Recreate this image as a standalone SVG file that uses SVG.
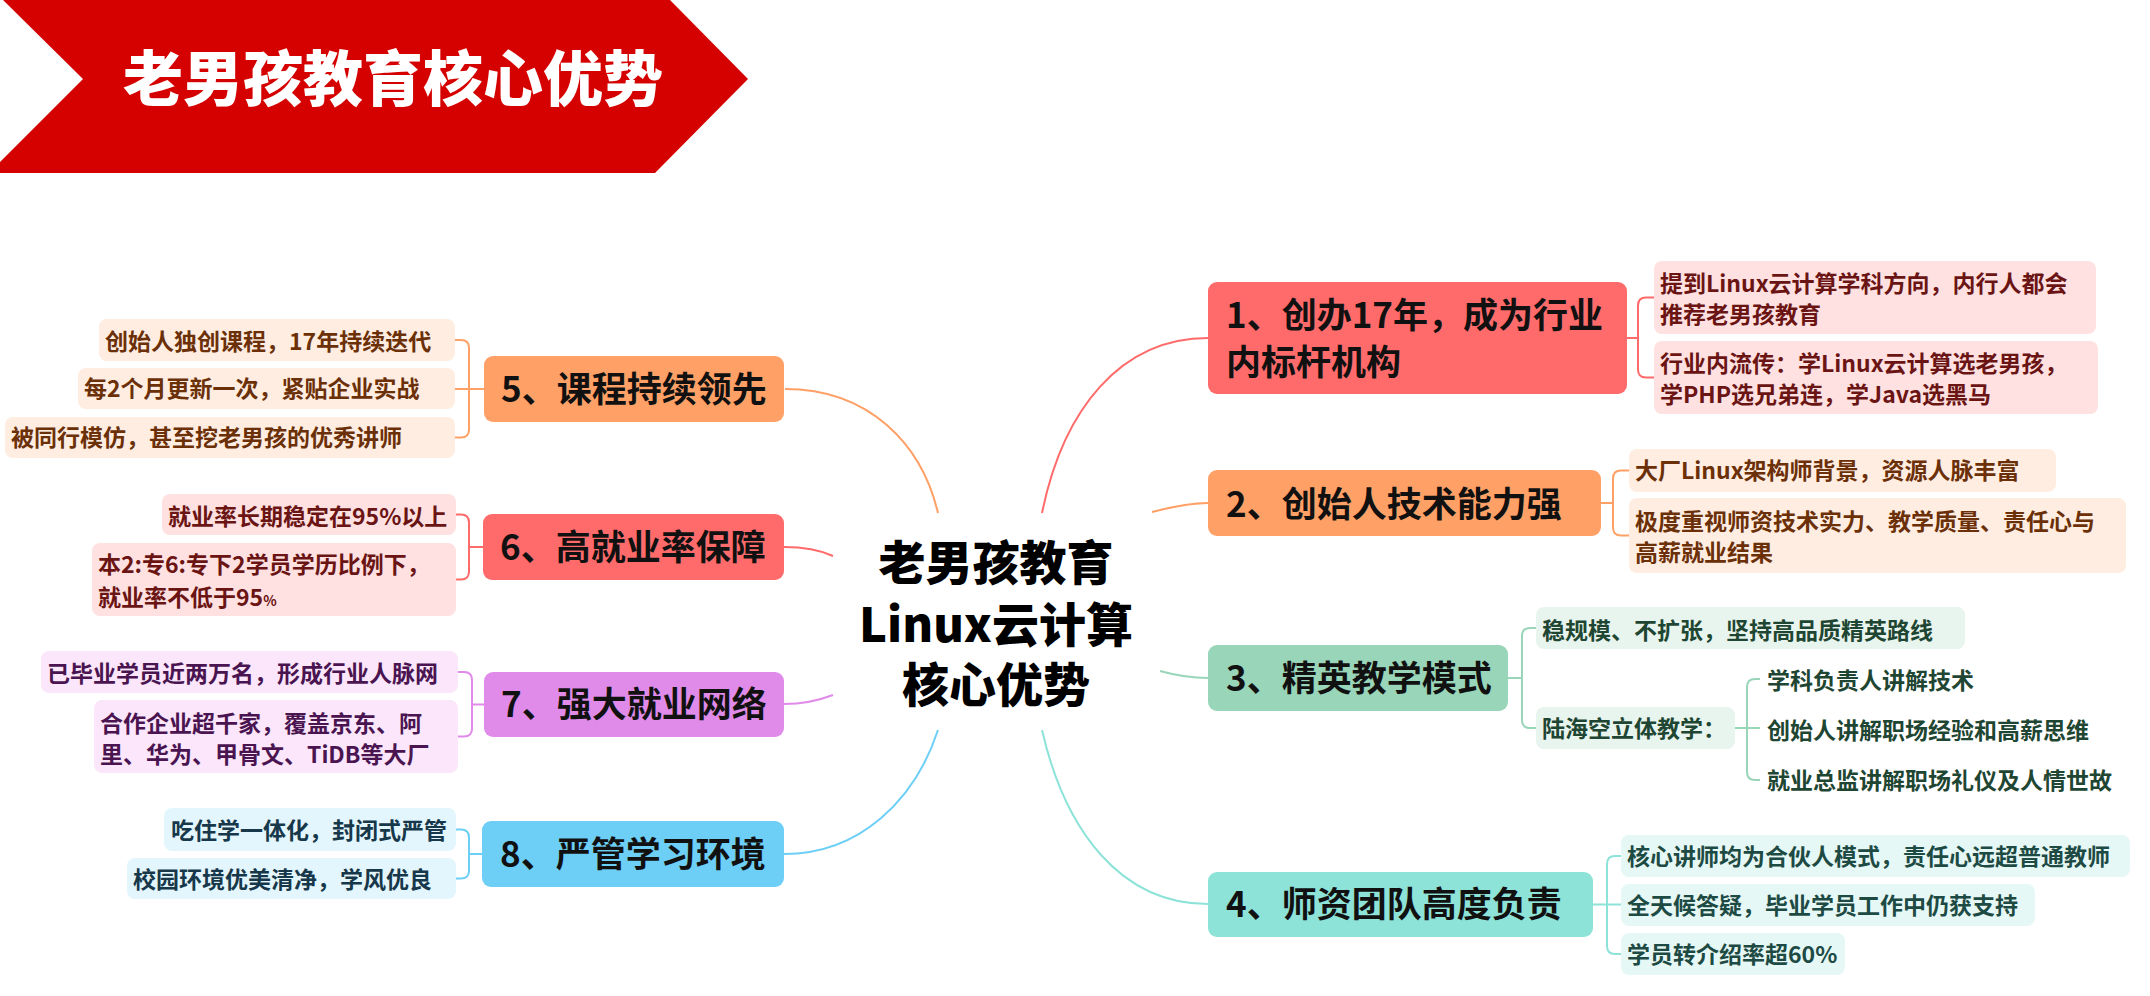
<svg xmlns="http://www.w3.org/2000/svg" width="2150" height="996" viewBox="0 0 2150 996">
<style>
text{font-family:"Noto Sans CJK SC","Noto Sans",sans-serif;font-weight:bold}
.title{font-size:60px;fill:#fff;font-weight:900}
.center{font-size:47px;fill:#000;text-anchor:middle;font-weight:900}
.node{font-size:35px;fill:#111}
.child{font-size:23px}
.c{fill:none;stroke-width:2}
.red{stroke:#FF6B6B}.org{stroke:#FFA066}.mint{stroke:#98D5B9}.turq{stroke:#8DE3D8}.orch{stroke:#E08BEA}.blue{stroke:#6DCFF6}
.tred{fill:#6B1414}.torg{fill:#6B3008}.tmint{fill:#1E4632}.tturq{fill:#1E4A44}.torch{fill:#4A1450}.tblue{fill:#17384A}
.bred{fill:#FFE1E1}.borg{fill:#FFEDE1}.bmint{fill:#E8F5EE}.bturq{fill:#E5F8F5}.borch{fill:#FBE6FC}.bblue{fill:#E3F6FD}
</style>
<rect width="2150" height="996" fill="#fff"/>
<g id="banner">
<polygon points="3,0 670,0 748,79 655,173 0,173 0,162 83,79" fill="#D50000"/>
<text class="title" x="393" y="101" text-anchor="middle">老男孩教育核心优势</text>
</g>
<g id="connectors">
<path class="c org" d="M785,389 C870,389 922,445 938,513"/>
<path class="c red" d="M1208,338 C1120,338 1063,410 1042,513"/>
<path class="c org" d="M1152,512 C1175,506 1190,503 1208,503"/>
<path class="c mint" d="M1160,671 C1178,676 1192,678 1208,678"/>
<path class="c turq" d="M1042,730 C1065,830 1120,904 1208,904"/>
<path class="c blue" d="M938,730 C915,800 860,854 784,854"/>
<path class="c red" d="M784,547 C805,547 820,550 833,556"/>
<path class="c orch" d="M784,704 C805,704 820,700 833,695"/>
<path class="c red" d="M1627,338 H1638 M1654,297.5 H1646 Q1638,297.5 1638,305.5 V369.5 Q1638,377.5 1646,377.5 H1654"/>
<path class="c org" d="M1601,503 H1613 M1629,470.5 H1621 Q1613,470.5 1613,478.5 V527.5 Q1613,535.5 1621,535.5 H1629"/>
<path class="c mint" d="M1508,678 H1522 M1536,628 H1530 Q1522,628 1522,636 V720 Q1522,728 1530,728 H1536"/>
<path class="c mint" d="M1735,728 H1760 M1760,679 H1755 Q1747,679 1747,687 V772 Q1747,780 1755,780 H1760"/>
<path class="c turq" d="M1593,904.5 H1621 M1621,856 H1615 Q1607,856 1607,864 V946 Q1607,954 1615,954 H1621"/>
<path class="c org" d="M484,389 H455 M455,340 H461 Q469,340 469,348 V429.5 Q469,437.5 461,437.5 H455"/>
<path class="c red" d="M483,547 H469 M456,514.5 H461 Q469,514.5 469,522.5 V571.5 Q469,579.5 461,579.5 H456"/>
<path class="c orch" d="M484,704.5 H472 M458,672 H464 Q472,672 472,680 V728.5 Q472,736.5 464,736.5 H458"/>
<path class="c blue" d="M482,854 H469 M456,829.5 H461 Q469,829.5 469,837.5 V870.5 Q469,878.5 461,878.5 H456"/>
</g>
<g id="root">
<text class="center"><tspan x="996" y="580">老男孩教育</tspan><tspan x="996" y="642">Linux云计算</tspan><tspan x="996" y="702">核心优势</tspan></text>
</g>
<g id="n1">
<rect x="1208" y="282" width="419" height="112" rx="9" fill="#FF6B6B"/>
<text class="node"><tspan x="1226" y="328">1、创办17年，成为行业</tspan><tspan x="1226" y="375">内标杆机构</tspan></text>
</g>
<g id="n1a">
<rect class="bred" x="1654" y="261" width="442" height="73" rx="8"/>
<text class="child tred"><tspan x="1660" y="291.5">提到Linux云计算学科方向，内行人都会</tspan><tspan x="1660" y="322.5">推荐老男孩教育</tspan></text>
</g>
<g id="n1b">
<rect class="bred" x="1654" y="341" width="444" height="73" rx="8"/>
<text class="child tred"><tspan x="1660" y="371.5">行业内流传：学Linux云计算选老男孩，</tspan><tspan x="1660" y="402.5">学PHP选兄弟连，学Java选黑马</tspan></text>
</g>
<g id="n2">
<rect x="1208" y="470" width="393" height="66" rx="9" fill="#FFA066"/>
<text class="node" x="1226" y="517">2、创始人技术能力强</text>
</g>
<g id="n2a">
<rect class="borg" x="1629" y="449" width="427" height="43" rx="8"/>
<text class="child torg" x="1635" y="479">大厂Linux架构师背景，资源人脉丰富</text>
</g>
<g id="n2b">
<rect class="borg" x="1629" y="498" width="497" height="75" rx="8"/>
<text class="child torg"><tspan x="1635" y="529.5">极度重视师资技术实力、教学质量、责任心与</tspan><tspan x="1635" y="560.5">高薪就业结果</tspan></text>
</g>
<g id="n3">
<rect x="1208" y="645" width="300" height="66" rx="9" fill="#98D5B9"/>
<text class="node" x="1226" y="691">3、精英教学模式</text>
</g>
<g id="n3a">
<rect class="bmint" x="1536" y="607" width="429" height="42" rx="8"/>
<text class="child tmint" x="1542" y="638.5">稳规模、不扩张，坚持高品质精英路线</text>
</g>
<g id="n3b">
<rect class="bmint" x="1536" y="707" width="199" height="42" rx="8"/>
<text class="child tmint" x="1542" y="737">陆海空立体教学：</text>
</g>
<g id="n3b1"><text class="child tmint" x="1767" y="688.5">学科负责人讲解技术</text></g>
<g id="n3b2"><text class="child tmint" x="1767" y="738.5">创始人讲解职场经验和高薪思维</text></g>
<g id="n3b3"><text class="child tmint" x="1767" y="788.5">就业总监讲解职场礼仪及人情世故</text></g>
<g id="n4">
<rect x="1208" y="872" width="385" height="65" rx="9" fill="#8DE3D8"/>
<text class="node" x="1226" y="917">4、师资团队高度负责</text>
</g>
<g id="n4a">
<rect class="bturq" x="1621" y="835" width="509" height="42" rx="8"/>
<text class="child tturq" x="1627" y="864.5">核心讲师均为合伙人模式，责任心远超普通教师</text>
</g>
<g id="n4b">
<rect class="bturq" x="1621" y="884" width="414" height="42" rx="8"/>
<text class="child tturq" x="1627" y="913.5">全天候答疑，毕业学员工作中仍获支持</text>
</g>
<g id="n4c">
<rect class="bturq" x="1621" y="933" width="224" height="42" rx="8"/>
<text class="child tturq" x="1627" y="962.5">学员转介绍率超60%</text>
</g>
<g id="n5">
<rect x="484" y="356" width="300" height="66" rx="9" fill="#FFA066"/>
<text class="node" x="501" y="402">5、课程持续领先</text>
</g>
<g id="n5a">
<rect class="borg" x="99" y="319" width="356" height="42" rx="8"/>
<text class="child torg" x="105" y="349.5">创始人独创课程，17年持续迭代</text>
</g>
<g id="n5b">
<rect class="borg" x="78" y="368" width="377" height="41" rx="8"/>
<text class="child torg" x="84" y="397">每2个月更新一次，紧贴企业实战</text>
</g>
<g id="n5c">
<rect class="borg" x="5" y="417" width="450" height="41" rx="8"/>
<text class="child torg" x="11" y="446">被同行模仿，甚至挖老男孩的优秀讲师</text>
</g>
<g id="n6">
<rect x="483" y="514" width="301" height="66" rx="9" fill="#FF6B6B"/>
<text class="node" x="500" y="560">6、高就业率保障</text>
</g>
<g id="n6a">
<rect class="bred" x="162" y="494" width="294" height="41" rx="8"/>
<text class="child tred" x="168" y="524.5">就业率长期稳定在95%以上</text>
</g>
<g id="n6b">
<rect class="bred" x="92" y="543" width="364" height="73" rx="8"/>
<text class="child tred"><tspan x="98" y="572.5">本2:专6:专下2学员学历比例下，</tspan><tspan x="98" y="605.5">就业率不低于95</tspan><tspan font-size="14">%</tspan></text>
</g>
<g id="n7">
<rect x="484" y="672" width="300" height="65" rx="9" fill="#E08BEA"/>
<text class="node" x="501" y="717">7、强大就业网络</text>
</g>
<g id="n7a">
<rect class="borch" x="41" y="651" width="417" height="42" rx="8"/>
<text class="child torch" x="47" y="681.5">已毕业学员近两万名，形成行业人脉网</text>
</g>
<g id="n7b">
<rect class="borch" x="94" y="700" width="364" height="73" rx="8"/>
<text class="child torch"><tspan x="100" y="731.5">合作企业超千家，覆盖京东、阿</tspan><tspan x="100" y="762.5">里、华为、甲骨文、TiDB等大厂</tspan></text>
</g>
<g id="n8">
<rect x="482" y="821" width="302" height="66" rx="9" fill="#6DCFF6"/>
<text class="node" x="500" y="867">8、严管学习环境</text>
</g>
<g id="n8a">
<rect class="bblue" x="164" y="808" width="292" height="43" rx="8"/>
<text class="child tblue" x="171" y="838.5">吃住学一体化，封闭式严管</text>
</g>
<g id="n8b">
<rect class="bblue" x="127" y="858" width="329" height="41" rx="8"/>
<text class="child tblue" x="133" y="887.5">校园环境优美清净，学风优良</text>
</g>
</svg>
